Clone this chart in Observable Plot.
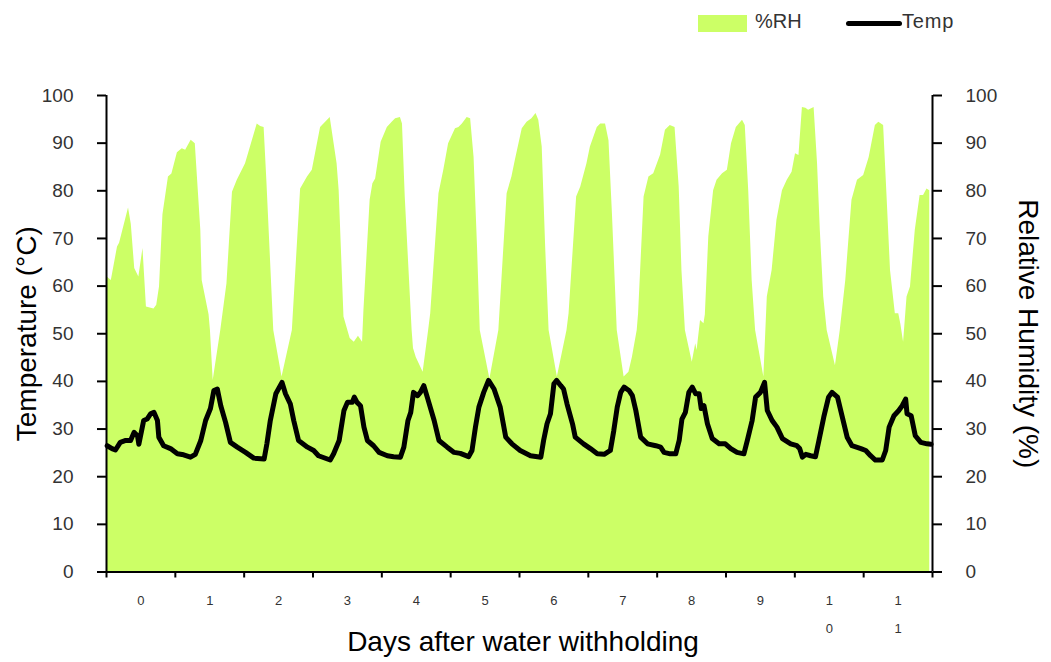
<!DOCTYPE html>
<html>
<head>
<meta charset="utf-8">
<script src="https://cdn.jsdelivr.net/npm/d3@7"></script>
<script src="https://cdn.jsdelivr.net/npm/@observablehq/plot@0.6"></script>
<style>
  body { margin: 0; background: #fff; font-family: "Liberation Sans", Arial, sans-serif; }
  #legend { position: relative; width: 1051px; height: 50px; }
  #legend .swatch { position: absolute; left: 698px; top: 15px; width: 49px; height: 17px; background: #ccff66; }
  #legend .stroke { position: absolute; left: 846px; top: 21px; width: 56px; height: 5px; background: #000; border-radius: 3px; }
  #legend .name { position: absolute; top: 11px; font-size: 20px; line-height: 20px; color: #333; }
</style>
</head>
<body>
<div id="legend"></div>
<div id="chart"></div>
<script>
// Relative humidity (%) over the withholding period; time in days
const rhDays = [
  0.01, 0.07, 0.16, 0.19, 0.32, 0.36, 0.41, 0.47, 0.53, 0.58, 0.69, 0.73, 0.77, 0.82, 0.90, 0.95,
  1.03, 1.10, 1.15, 1.23, 1.29, 1.37, 1.39, 1.49, 1.51, 1.55, 1.66, 1.75, 1.83, 1.90,
  2.02, 2.19, 2.24, 2.29, 2.33, 2.43, 2.55, 2.70, 2.82, 2.92, 2.99,
  3.11, 3.25, 3.35, 3.38, 3.45, 3.54, 3.60, 3.66, 3.72, 3.74, 3.83, 3.87, 3.91, 3.99,
  4.08, 4.15, 4.20, 4.27, 4.30, 4.34, 4.39, 4.44, 4.46, 4.50, 4.60, 4.68, 4.71, 4.83, 4.90, 4.97,
  5.07, 5.12, 5.17, 5.24, 5.29, 5.34, 5.39, 5.43, 5.57, 5.70, 5.82, 5.89, 5.94,
  6.04, 6.11, 6.18, 6.24, 6.28, 6.33, 6.38, 6.43, 6.55, 6.69, 6.72, 6.83, 6.89, 6.98,
  7.03, 7.13, 7.18, 7.25, 7.30, 7.35, 7.42, 7.52, 7.59, 7.64, 7.71, 7.73, 7.81, 7.88, 7.95,
  8.05, 8.12, 8.19, 8.26, 8.32, 8.36, 8.41, 8.51, 8.56, 8.58, 8.63, 8.68, 8.70, 8.75, 8.82, 8.87, 8.95,
  9.02, 9.08, 9.15, 9.24, 9.28, 9.33, 9.38, 9.43, 9.55, 9.60, 9.67, 9.74, 9.82, 9.89, 9.96,
  10.01, 10.06, 10.11, 10.16, 10.20, 10.28, 10.33, 10.37, 10.42, 10.47, 10.59, 10.66, 10.74, 10.83, 10.91,
  11.00, 11.08, 11.17, 11.22, 11.29, 11.34, 11.39, 11.46, 11.51, 11.54, 11.58, 11.63, 11.68, 11.75, 11.82, 11.87, 11.92, 11.96
];
const rhValues = [
  61.9, 61.2, 68.2, 69.0, 76.4, 73.0, 63.7, 61.9, 67.9, 55.6, 55.2, 56.0, 59.8, 75.0, 82.9, 83.5,
  88.0, 88.8, 88.5, 90.6, 89.9, 71.7, 61.2, 54.0, 50.7, 40.2, 50.7, 60.5, 79.7, 82.2,
  85.7, 94.0, 93.5, 93.3, 82.0, 50.7, 40.9, 50.7, 80.4, 82.9, 84.3,
  93.3, 95.4, 85.7, 80.0, 53.5, 49.0, 48.2, 49.5, 48.2, 54.9, 78.0, 81.5, 82.5, 90.2,
  93.3, 94.4, 95.1, 95.4, 94.0, 78.7, 64.7, 50.7, 46.9, 45.0, 41.9, 50.7, 54.2, 79.4, 84.3, 89.9,
  93.0, 93.3, 94.0, 95.4, 95.1, 87.0, 68.2, 50.7, 40.5, 50.7, 79.4, 82.9, 86.4,
  93.0, 94.4, 95.1, 96.2, 94.8, 89.2, 68.2, 50.7, 40.9, 50.7, 54.2, 78.7, 80.8, 85.7,
  89.2, 93.3, 94.0, 94.0, 90.5, 75.2, 50.7, 40.9, 41.9, 45.0, 50.7, 54.2, 78.7, 82.9, 83.6,
  87.5, 92.7, 93.7, 93.3, 80.8, 63.3, 50.7, 44.0, 47.9, 46.5, 52.8, 52.1, 54.0, 70.3, 80.0, 82.2, 83.6,
  84.3, 89.9, 93.3, 94.8, 93.7, 80.0, 61.2, 50.7, 40.9, 57.7, 63.3, 73.8, 80.0, 82.2, 83.9,
  87.8, 87.4, 97.5, 97.3, 96.9, 97.5, 85.7, 71.7, 57.7, 50.7, 43.3, 50.7, 61.2, 78.0, 82.2,
  83.2, 87.0, 93.7, 94.4, 93.7, 78.7, 63.3, 54.2, 54.2, 52.0, 48.2, 57.7, 59.8, 71.7, 79.0, 79.0, 80.4, 80.0
];

// Air temperature (°C); time in days
const tempDays = [
  0.01, 0.08, 0.13, 0.20, 0.28, 0.35, 0.40, 0.45, 0.47, 0.54, 0.59, 0.64, 0.69, 0.74, 0.76, 0.83, 0.93,
  1.03, 1.12, 1.22, 1.29, 1.37, 1.44, 1.51, 1.56, 1.61, 1.66, 1.73, 1.80, 1.90,
  2.02, 2.14, 2.29, 2.33, 2.38, 2.46, 2.55, 2.60, 2.67, 2.72, 2.79, 2.92,
  3.01, 3.08, 3.25, 3.30, 3.38, 3.45, 3.50, 3.57, 3.60, 3.64, 3.69, 3.74, 3.79, 3.88, 3.96,
  4.08, 4.17, 4.27, 4.32, 4.38, 4.42, 4.46, 4.52, 4.56, 4.61, 4.66, 4.76, 4.83, 4.95,
  5.05, 5.14, 5.26, 5.31, 5.36, 5.41, 5.48, 5.55, 5.63, 5.72, 5.80, 5.89,
  6.01, 6.16, 6.31, 6.35, 6.40, 6.45, 6.50, 6.54, 6.60, 6.64, 6.69, 6.77, 6.81, 6.93,
  7.03, 7.13, 7.23, 7.32, 7.37, 7.42, 7.47, 7.52, 7.59, 7.64, 7.69, 7.76, 7.86, 7.98,
  8.05, 8.10, 8.19, 8.27, 8.32, 8.36, 8.41, 8.46, 8.51, 8.56, 8.61, 8.64, 8.68, 8.73, 8.80, 8.90, 8.99,
  9.07, 9.16, 9.26, 9.31, 9.38, 9.43, 9.50, 9.56, 9.60, 9.67, 9.74, 9.82, 9.94,
  10.03, 10.07, 10.11, 10.16, 10.23, 10.30, 10.35, 10.42, 10.49, 10.54, 10.62, 10.69, 10.76, 10.83, 10.96,
  11.03, 11.10, 11.17, 11.27, 11.32, 11.37, 11.44, 11.51, 11.56, 11.61, 11.63, 11.69, 11.75, 11.83, 11.92, 11.98
];
const tempValues = [
  26.5, 25.9, 25.6, 27.2, 27.6, 27.6, 29.3, 28.6, 26.8, 31.8, 32.1, 33.2, 33.5, 31.8, 28.3, 26.5, 25.9,
  24.8, 24.6, 24.1, 24.7, 27.6, 31.8, 34.3, 38.1, 38.4, 34.9, 31.4, 27.2, 26.2,
  25.1, 23.9, 23.7, 26.9, 31.8, 37.4, 39.8, 37.4, 35.3, 31.8, 27.6, 26.2,
  25.5, 24.4, 23.5, 24.8, 27.6, 33.9, 35.6, 35.6, 36.7, 35.6, 34.9, 30.4, 27.6, 26.5, 25.1,
  24.4, 24.2, 24.1, 26.2, 31.8, 33.5, 37.7, 37.0, 37.7, 39.1, 36.7, 31.8, 27.6, 26.2,
  25.1, 24.9, 24.2, 25.5, 30.4, 34.6, 37.7, 40.2, 38.4, 34.6, 28.3, 26.9,
  25.5, 24.4, 24.1, 27.6, 31.1, 33.2, 39.5, 40.2, 39.1, 38.4, 35.3, 31.1, 28.3, 26.9,
  25.9, 24.8, 24.7, 25.5, 29.7, 34.6, 37.7, 38.8, 38.1, 37.0, 33.9, 28.3, 26.9, 26.5,
  26.2, 25.1, 24.8, 24.8, 27.6, 32.1, 33.5, 37.7, 38.8, 37.4, 37.4, 34.3, 34.9, 31.1, 28.0, 26.9, 26.9,
  25.9, 25.1, 24.8, 27.6, 31.8, 36.7, 37.7, 39.8, 33.9, 31.8, 30.4, 28.0, 26.9,
  26.5, 25.9, 24.1, 24.7, 24.4, 24.2, 27.6, 32.5, 36.7, 37.7, 36.7, 32.5, 28.3, 26.5, 25.9,
  25.5, 24.4, 23.5, 23.5, 25.5, 30.4, 32.8, 33.9, 34.9, 36.3, 33.2, 32.8, 28.6, 27.2, 26.9, 26.8
];

// Day boundaries and the day number printed under each day
const dayTicks = [0, 1, 2, 3, 4, 5, 6, 7, 8, 9, 10, 11, 12];
const dayLabels = ["0", "1", "2", "3", "4", "5", "6", "7", "8", "9", "10", "11"];
const valueTicks = [0, 10, 20, 30, 40, 50, 60, 70, 80, 90, 100];
const seriesNames = ["%RH", "Temp"];
const axisTitles = { x: "Days after water withholding", left: "Temperature (°C)", right: "Relative Humidity (%)" };

const rh = rhDays.map((day, i) => ({ day, value: rhValues[i] }));
const temp = tempDays.map((day, i) => ({ day, value: tempValues[i] }));

// Legend above the chart
const legend = document.getElementById("legend");
legend.innerHTML =
  `<div class="swatch"></div><div class="name" style="left:755px">${seriesNames[0]}</div>` +
  `<div class="stroke"></div><div class="name" style="left:902px;letter-spacing:0.8px">${seriesNames[1]}</div>`;

const font = "'Liberation Sans', Arial, sans-serif";

const chart = Plot.plot({
  width: 1051,
  height: 612,
  marginTop: 45,
  marginBottom: 90.5,
  marginLeft: 106,
  marginRight: 119,
  x: { domain: [0, 12] },
  y: { domain: [0, 100] },
  style: { fontFamily: font, background: "transparent", overflow: "visible", color: "#000" },
  marks: [
    Plot.areaY(rh, { x: "day", y: "value", fill: "#ccff66" }),
    Plot.line(temp, { x: "day", y: "value", stroke: "#000", strokeWidth: 5, strokeLinejoin: "round", strokeLinecap: "round" }),
    Plot.ruleX([0, 12], { stroke: "#000", strokeWidth: 2 }),
    Plot.ruleY([0], { stroke: "#000", strokeWidth: 2 }),
    Plot.axisY({ anchor: "left", ticks: valueTicks, tickSize: 9, tickPadding: 24, fontSize: 19, strokeWidth: 2, stroke: "#000", fill: "#333", label: null }),
    Plot.axisY({ anchor: "right", ticks: valueTicks, tickSize: 9, tickPadding: 24, fontSize: 19, strokeWidth: 2, stroke: "#000", fill: "#333", label: null }),
    Plot.axisX({ ticks: dayTicks, tickSize: 6, tickFormat: () => "", strokeWidth: 2, stroke: "#000", label: null }),
    // day numbers centred under each day, digits stacked
    Plot.text(dayLabels, {
      x: (d, i) => dayTicks[i] + 0.5,
      text: (d) => d.split("").join("\n"),
      frameAnchor: "bottom", dy: 12.5, lineAnchor: "top", lineHeight: 2.18,
      fontSize: 13, fill: "#333"
    }),
    Plot.text([axisTitles.x], { frameAnchor: "bottom", textAnchor: "middle", lineAnchor: "middle", dx: 3.5, dy: 70, fontSize: 28, fill: "#000" }),
    Plot.text([axisTitles.left], { frameAnchor: "left", textAnchor: "middle", lineAnchor: "middle", rotate: -90, dx: -79.5, fontSize: 28, fill: "#000" }),
    Plot.text([axisTitles.right], { frameAnchor: "right", textAnchor: "middle", lineAnchor: "middle", rotate: 90, dx: 95.3, fontSize: 28, fill: "#000" })
  ]
});

document.getElementById("chart").appendChild(chart);
</script>
</body>
</html>
